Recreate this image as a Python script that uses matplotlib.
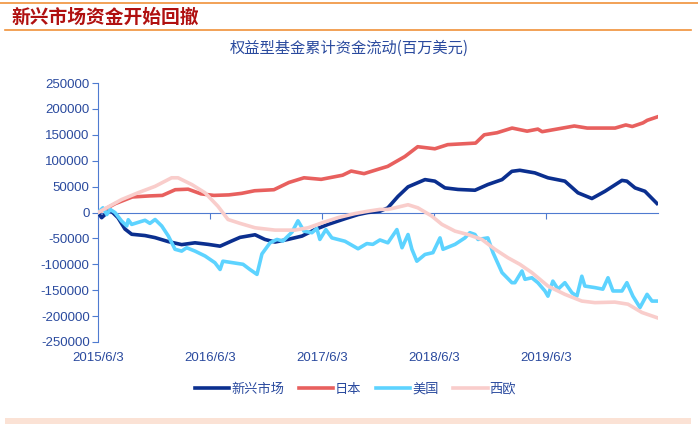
import numpy as np
import pandas as pd
import matplotlib
matplotlib.use('Agg')
import matplotlib.pyplot as plt
from matplotlib.lines import Line2D
from matplotlib.patches import Rectangle

plt.rcParams['font.family'] = ['Liberation Sans', 'Noto Sans CJK SC', 'DejaVu Sans']

# cumulative equity fund flows, million USD; x in weeks from 2015/6/3
em_wk = [0, 1.7, 5.6, 9.3, 12.6, 15.7, 21.9, 26.6, 32.6, 39, 45.2, 51.3, 56.9, 62.3, 66.2,
         73.2, 77.8, 82.5, 88.5, 95.1, 101.1, 107.2, 115.1, 121.2, 125.8, 131.4, 135.1, 139.8,
         144.5, 152.4, 157, 161.7, 167.8, 175.7, 181.7, 188.3, 192.9, 196.6, 203.6, 209.7,
         217.6, 223.7, 230.2, 236.3, 244.2, 246.5, 250.3, 254.9, 260.5]
em_val = [0, -10000, 5000, -10000, -32000, -42000, -44500, -48500, -56000, -62000, -58500,
          -61500, -65000, -55000, -48000, -43000, -52000, -57000, -52000, -45500, -33000,
          -23000, -12000, -4000, 0, 2500, 9000, 31000, 49500, 63500, 60500, 47500, 44500,
          43000, 54000, 63500, 79500, 81500, 76500, 67000, 60500, 38000, 27000, 41000, 62000,
          60500, 47500, 41000, 17500]

jp_wk = [0, 4, 8, 16, 24, 30, 36, 42, 48, 54, 61, 67, 73, 82, 89, 96, 104, 114, 118, 124,
         131, 135, 143, 149, 157, 163, 176, 180, 186, 193, 200, 205, 207, 222, 228, 241,
         246, 249, 254, 256, 261]
jp_val = [0, 8000, 17000, 30000, 32000, 33000, 44000, 45000, 36000, 33000, 34000, 37000,
          42000, 44000, 58000, 67000, 64000, 72000, 80000, 75000, 84000, 89000, 108000,
          127000, 123000, 131000, 134000, 150000, 154000, 163000, 157000, 161000, 156000,
          167000, 163000, 163000, 169000, 166000, 173000, 178000, 185000]

us_wk = [0, 2.3, 4.1, 5.6, 7.9, 11, 13.4, 14.1, 15.7, 18, 21.9, 24.2, 26.6, 29.7, 32.8, 35.9,
         39, 41.3, 45.2, 49.9, 54.5, 56.9, 58.2, 62.9, 67.6, 70.8, 74.1, 76.4, 80.2, 83.4,
         86.2, 90.4, 93.2, 96, 99.7, 102, 103.4, 106.2, 109, 115.1, 121.2, 125.3, 128.1,
         131.4, 135.1, 139.3, 141.7, 144.5, 146.3, 148.6, 152.4, 156.1, 159.4, 160.8, 166.4,
         171, 173.3, 175.7, 177.1, 181.7, 184.1, 188.3, 192.9, 194.3, 197.6, 199, 202.2, 205,
         208.3, 209.7, 212, 214.4, 217.6, 220.9, 223.2, 225.5, 226.9, 231.6, 235.3, 237.7,
         240, 244.2, 246.5, 249.3, 252.6, 255.9, 258.2, 260.5]
us_val = [0, 9000, -4000, 6000, 0, -16500, -26000, -14000, -23000, -20000, -15000, -21000,
          -13500, -26000, -45500, -71000, -74500, -68000, -74500, -84000, -97000, -110000,
          -94000, -97000, -100000, -110000, -119500, -80000, -58500, -52000, -55000, -38000,
          -16000, -36000, -39000, -31000, -52000, -33000, -49000, -55500, -70000, -60000,
          -61500, -53000, -58500, -33000, -68000, -42500, -71000, -94000, -81000, -77500,
          -49000, -71000, -61500, -49000, -39000, -42500, -52000, -49000, -77500, -116000,
          -135500, -135500, -113000, -129000, -126000, -135500, -151500, -161500, -132500,
          -148000, -135500, -155000, -161500, -123000, -142000, -145000, -148000, -126000,
          -151500, -151500, -135500, -161500, -183500, -158000, -171000, -171000]

eu_wk = [0, 11, 18.6, 26.6, 34.3, 37.3, 43.7, 49.9, 55.9, 60.6, 66.2, 73.2, 82.5, 91.8, 97.9,
         104.4, 111.8, 119.8, 125.8, 131.4, 135.1, 138.4, 144.5, 149.1, 155.6, 160.3, 166.4,
         172.4, 178.9, 185, 191.1, 196.6, 202.2, 209.7, 217.6, 225.5, 231.6, 240.9, 247,
         253.5, 260.5]
eu_val = [0, 25000, 38000, 50500, 67000, 67000, 54000, 38000, 12000, -13500, -21000, -29500,
          -34000, -34000, -29500, -20000, -10000, -2000, 2500, 6000, 6000, 9000, 15000, 9000,
          -7000, -23000, -36000, -42500, -52000, -71000, -87500, -100000, -116000, -142000,
          -158000, -171000, -174000, -173000, -177000, -193000, -203000]

names = ['新兴市场', '日本', '美国', '西欧']
colors = ['#0B2F8F', '#E8605E', '#5DD3FF', '#F9CDCB']
tick_labels = ['2015/6/3', '2016/6/3', '2017/6/3', '2018/6/3', '2019/6/3']

start = pd.Timestamp('2015-06-03')
def to_dates(wk):
    return start + pd.to_timedelta(np.array(wk) * 7, unit='D')

txt = '#2A4A9E'
axc = '#4F7BD0'

fig = plt.figure(figsize=(6.98, 4.24), dpi=100)

# header
fig.text(0.017, 0.960, '新兴市场资金开始回撤', fontsize=13.5, fontweight='bold',
         color='#B01010', family=['Noto Sans CJK SC'], va='center', ha='left')
fig.add_artist(Line2D([0, 1], [0.994, 0.994], color='#F0913A', lw=1.2))
fig.add_artist(Line2D([0.007, 0.99], [0.929, 0.929], color='#F0913A', lw=1.2))
fig.add_artist(Rectangle((0.007, 0.0), 0.983, 0.015, color='#FBE2D5', lw=0))

fig.text(0.5, 0.886, '权益型基金累计资金流动(百万美元)', fontsize=11, color=txt,
         ha='center', va='center', family=['Noto Sans CJK SC', 'DejaVu Sans'])

ax = fig.add_axes([98 / 698, 82 / 424, 560 / 698, 259 / 424])

series = [(em_wk, em_val), (jp_wk, jp_val), (us_wk, us_val), (eu_wk, eu_val)]
for i, (wk, val) in enumerate(series):
    ax.plot(to_dates(wk), val, color=colors[i], lw=2.6, label=names[i],
            solid_joinstyle='round', zorder=3 + i)

ax.set_ylim(-250000, 250000)
ax.set_yticks(np.arange(-250000, 250001, 50000))
ax.set_yticklabels([str(v) for v in range(-250000, 250001, 50000)])
ax.set_xlim(start, start + pd.Timedelta(days=261 * 7))

tick_pos = [pd.Timestamp(s.replace('/', '-')) for s in tick_labels]
ax.set_xticks(tick_pos)
ax.tick_params(axis='x', direction='out', length=4, color=axc, labelbottom=False)
ax.tick_params(axis='y', direction='out', length=4, color=axc, labelcolor=txt, labelsize=9.5, pad=2)

for s in ['top', 'right']:
    ax.spines[s].set_visible(False)
ax.spines['left'].set_color(axc)
ax.spines['bottom'].set_color(axc)
ax.spines['bottom'].set_position(('data', 0))
ax.spines['bottom'].set_zorder(2)

sec = ax.secondary_xaxis('bottom')
sec.set_xticks(tick_pos)
sec.set_xticklabels(tick_labels)
sec.spines['bottom'].set_visible(False)
sec.tick_params(length=0, labelcolor=txt, labelsize=9.5, pad=7)

leg = ax.legend(loc='center', bbox_to_anchor=(355.5 / 698, 0.082), bbox_transform=fig.transFigure,
                ncol=4, frameon=False, handlelength=2.6, handletextpad=0.15,
                columnspacing=1.1, prop={'family': ['Noto Sans CJK SC'], 'size': 9.5})
for t in leg.get_texts():
    t.set_color(txt)

fig.savefig('out.png', dpi=100)
